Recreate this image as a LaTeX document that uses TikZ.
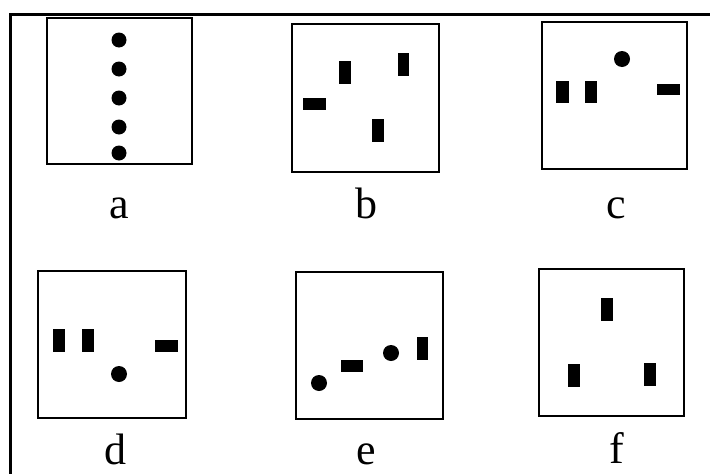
\documentclass[tikz,border=0pt]{standalone}
\usepackage{fontspec}
\setmainfont{Liberation Serif}
\begin{document}
\begin{tikzpicture}[x=1pt,y=-1pt,
  panel/.style={draw=black,line width=1.4pt},
  frame/.style={draw=black,line width=3pt},
  dot/.style={fill=black},
  bar/.style={fill=black},
  caption/.style={anchor=base,inner sep=0pt,font=\fontsize{44}{44}\selectfont}]
\useasboundingbox (0,0) rectangle (710,474);
% outer frame (top and left edges)
\draw[frame] (10,476) -- (10,14) -- (712,14);

% panel a: five dots in a column
\draw[panel] (47,18) rectangle (192,164);
\foreach \y in {40,69,98,127,153} \fill[dot] (119,\y) circle (7.5);
\node[caption] (la) at (119,218) {a};

% panel b
\draw[panel] (292,24) rectangle (439,172);
\fill[bar] (339,61) rectangle (351,84);
\fill[bar] (398,53) rectangle (409,76);
\fill[bar] (303,98) rectangle (326,110);
\fill[bar] (372,119) rectangle (384,142);
\node[caption] (lb) at (366,218) {b};

% panel c
\draw[panel] (542,22) rectangle (687,169);
\fill[dot] (622,59) circle (8);
\fill[bar] (556,81) rectangle (569,103);
\fill[bar] (585,81) rectangle (597,103);
\fill[bar] (657,84) rectangle (680,95);
\node[caption] (lc) at (616,218) {c};

% panel d
\draw[panel] (38,271) rectangle (186,418);
\fill[bar] (53,329) rectangle (65,352);
\fill[bar] (82,329) rectangle (94,352);
\fill[bar] (155,340) rectangle (178,352);
\fill[dot] (119,374) circle (8);
\node[caption] (ld) at (115,464) {d};

% panel e
\draw[panel] (296,272) rectangle (443,419);
\fill[dot] (319,383) circle (8);
\fill[bar] (341,360) rectangle (363,372);
\fill[dot] (391,353) circle (8);
\fill[bar] (417,337) rectangle (428,360);
\node[caption] (le) at (366,464) {e};

% panel f
\draw[panel] (539,269) rectangle (684,416);
\fill[bar] (601,298) rectangle (613,321);
\fill[bar] (568,364) rectangle (580,387);
\fill[bar] (644,363) rectangle (656,386);
\node[caption] (lf) at (617,463) {f};
\end{tikzpicture}
\end{document}
